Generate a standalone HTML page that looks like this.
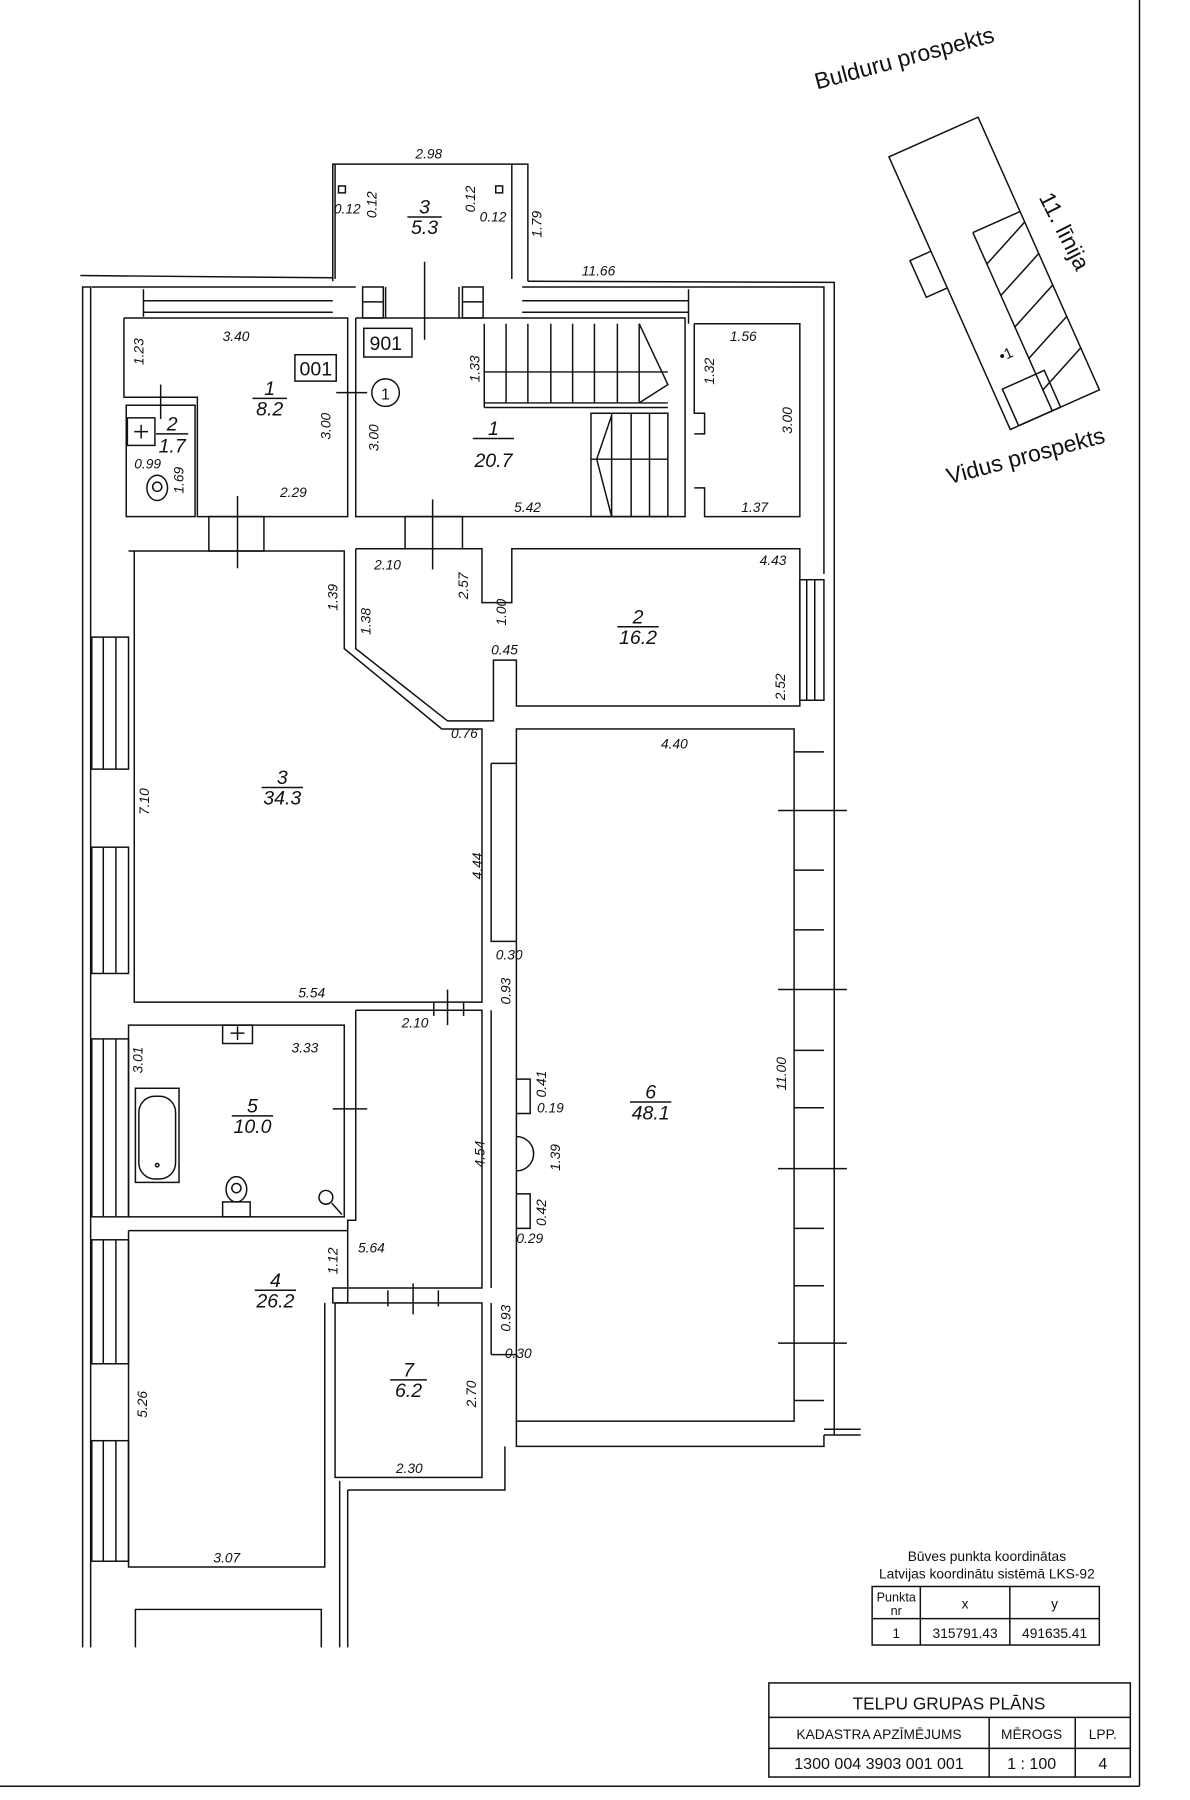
<!DOCTYPE html>
<html><head><meta charset="utf-8"><style>
html,body{margin:0;padding:0;background:#fff}
svg{display:block}
text{font-family:"Liberation Sans",sans-serif;fill:#111}
.d{font-size:12px;font-style:italic}
.r{font-size:17px;font-style:italic;text-anchor:middle}
</style></head><body>
<svg width="1190" height="1800" viewBox="0 0 1037 1568" preserveAspectRatio="none" xmlns="http://www.w3.org/2000/svg">
<g fill="none" stroke="#111" stroke-width="1.3">
<line x1="993" y1="0" x2="993" y2="1556"/>
<line x1="0" y1="1556" x2="993" y2="1556"/>
<polyline points="290,245 290,143 460,143 460,245"/>
<line x1="292" y1="243" x2="292" y2="143"/><line x1="446" y1="243" x2="446" y2="143"/>
<rect x="295" y="162" width="6" height="6"/><rect x="432" y="162" width="6" height="6"/>
<line x1="370" y1="228" x2="370" y2="296"/>
<polyline points="79,1435 79,250 72,250 72,1435"/>
<polyline points="70,240 290,242"/><polyline points="460,245 727,246 727,1250"/>
<polyline points="80,250 310,250"/><polyline points="455,250 718,250 718,500"/>
<line x1="125" y1="252" x2="125" y2="276"/><line x1="125" y1="262" x2="290" y2="262"/><line x1="125" y1="272" x2="290" y2="272"/>
<line x1="455" y1="262" x2="600" y2="262"/><line x1="455" y1="272" x2="600" y2="272"/><line x1="600" y1="252" x2="600" y2="282"/>
<rect x="316" y="250" width="18" height="27"/><line x1="316" y1="263" x2="334" y2="263"/>
<rect x="403" y="250" width="18" height="27"/><line x1="403" y1="263" x2="421" y2="263"/>
<line x1="336" y1="250" x2="336" y2="277"/><line x1="400" y1="250" x2="400" y2="277"/>
<polyline points="108,277 303,277 303,450 172,450 172,346 108,346 108,277"/>
<rect x="110" y="353" width="60" height="97"/>
<rect x="111" y="364" width="24" height="24"/>
<line x1="117" y1="376" x2="129" y2="376"/><line x1="123" y1="370" x2="123" y2="382"/>
<ellipse cx="137" cy="425" rx="9" ry="11"/><circle cx="137" cy="424" r="4"/>
<line x1="140" y1="335" x2="140" y2="365"/>
<line x1="293" y1="342" x2="320" y2="342"/><circle cx="336" cy="342" r="12"/>
<polyline points="310,277 597,277 597,450 310,450 310,277"/>
<rect x="317" y="286" width="42" height="25"/>
<rect x="257" y="309" width="36" height="23"/>
<line x1="422" y1="282" x2="422" y2="355"/><line x1="422" y1="355" x2="582" y2="355"/>
<line x1="422" y1="351" x2="582" y2="351"/><line x1="422" y1="324" x2="582" y2="324"/>
<g><line x1="441" y1="282" x2="441" y2="351"/><line x1="460" y1="282" x2="460" y2="351"/><line x1="480" y1="282" x2="480" y2="351"/><line x1="499" y1="282" x2="499" y2="351"/><line x1="518" y1="282" x2="518" y2="351"/><line x1="538" y1="282" x2="538" y2="351"/><line x1="557" y1="282" x2="557" y2="351"/></g>
<polyline points="557,282 582,335 557,351"/>
<rect x="515" y="360" width="67" height="90"/>
<line x1="515" y1="400" x2="582" y2="400"/>
<line x1="533" y1="360" x2="533" y2="450"/><line x1="550" y1="360" x2="550" y2="450"/><line x1="566" y1="360" x2="566" y2="450"/>
<polyline points="533,362 520,400 533,450"/>
<polyline points="605,282 697,282 697,450 614,450 614,425 605,425"/>
<polyline points="605,282 605,360 614,360 614,378 605,378"/>
<rect x="182" y="450" width="48" height="30"/><line x1="207" y1="432" x2="207" y2="495"/>
<rect x="353" y="450" width="50" height="28"/><line x1="377" y1="435" x2="377" y2="496"/>
<polyline points="112,480 300,480 300,565 385,635 420,635 420,873 117,873 117,480"/>
<polyline points="310,478 420,478 420,525 446,525 446,478 697,478 697,615 450,615 450,575 430,575 430,628 390,628 310,565 310,478"/>
<rect x="697" y="505" width="21" height="105"/><line x1="703" y1="505" x2="703" y2="610"/><line x1="710" y1="505" x2="710" y2="610"/>
<rect x="80" y="555" width="32" height="115"/><line x1="90" y1="555" x2="90" y2="670"/><line x1="101" y1="555" x2="101" y2="670"/>
<rect x="80" y="738" width="32" height="110"/><line x1="90" y1="738" x2="90" y2="848"/><line x1="101" y1="738" x2="101" y2="848"/>
<rect x="80" y="905" width="32" height="155"/><line x1="90" y1="905" x2="90" y2="1060"/><line x1="101" y1="905" x2="101" y2="1060"/>
<rect x="80" y="1080" width="32" height="108"/><line x1="90" y1="1080" x2="90" y2="1188"/><line x1="101" y1="1080" x2="101" y2="1188"/>
<rect x="80" y="1255" width="32" height="105"/><line x1="90" y1="1255" x2="90" y2="1360"/><line x1="101" y1="1255" x2="101" y2="1360"/>
<rect x="450" y="635" width="242" height="603"/>
<polyline points="428,665 428,820 450,820"/><line x1="428" y1="665" x2="450" y2="665"/>
<polyline points="450,940 462,940 462,970 450,970"/><path d="M450,990 a13,13 0 0 1 0,30"/>
<polyline points="450,1040 462,1040 462,1070 450,1070"/>
<line x1="692" y1="655" x2="718" y2="655"/><line x1="692" y1="758" x2="718" y2="758"/><line x1="692" y1="810" x2="718" y2="810"/><line x1="692" y1="915" x2="718" y2="915"/><line x1="692" y1="965" x2="718" y2="965"/><line x1="692" y1="1070" x2="718" y2="1070"/><line x1="692" y1="1120" x2="718" y2="1120"/><line x1="692" y1="1220" x2="718" y2="1220"/>
<line x1="678" y1="706" x2="738" y2="706"/><line x1="678" y1="862" x2="738" y2="862"/><line x1="678" y1="1018" x2="738" y2="1018"/><line x1="678" y1="1170" x2="738" y2="1170"/>
<line x1="718" y1="1250" x2="750" y2="1250"/><line x1="718" y1="1245" x2="750" y2="1245"/>
<polyline points="450,1238 450,1260 718,1260 718,1250"/>
<polyline points="303,1298 440,1298 440,1260"/>
<line x1="303" y1="1298" x2="303" y2="1435"/><line x1="296" y1="1290" x2="296" y2="1435"/>
<polyline points="118,1435 118,1402 280,1402 280,1435"/>
<rect x="112" y="893" width="188" height="167"/>
<rect x="118" y="948" width="38" height="82"/><rect x="121" y="955" width="32" height="72" rx="14"/>
<circle cx="137" cy="1015" r="1.5"/>
<rect x="194" y="893" width="26" height="16"/><line x1="201" y1="900" x2="213" y2="900"/><line x1="207" y1="894" x2="207" y2="906"/>
<rect x="194" y="1047" width="24" height="13"/><ellipse cx="206" cy="1036" rx="9" ry="11"/><circle cx="206" cy="1035" r="4"/>
<circle cx="284" cy="1043" r="6"/><line x1="289" y1="1048" x2="298" y2="1058"/>
<line x1="290" y1="966" x2="320" y2="966"/>
<polyline points="310,880 420,880 420,1122 290,1122 290,1135 303,1135 303,1063 310,1063 310,880"/>
<line x1="390" y1="862" x2="390" y2="893"/><line x1="378" y1="873" x2="378" y2="885"/><line x1="404" y1="873" x2="404" y2="885"/>
<line x1="428" y1="880" x2="428" y2="1122"/>
<polyline points="112,1072 303,1072 303,1063"/>
<polyline points="112,1072 112,1365 283,1365 283,1135"/>
<rect x="292" y="1135" width="128" height="152"/>
<line x1="360" y1="1118" x2="360" y2="1145"/><line x1="338" y1="1124" x2="338" y2="1138"/><line x1="382" y1="1124" x2="382" y2="1138"/>
<line x1="428" y1="1135" x2="428" y2="1180"/><line x1="428" y1="1180" x2="450" y2="1180"/>
<g transform="rotate(-24 860 230)">
<rect x="820" y="110" width="85" height="260"/>
<polyline points="820,200 800,200 800,235 820,235"/>
<polyline points="860,200 905,200"/>
<line x1="860" y1="200" x2="860" y2="370"/>
<line x1="860" y1="230" x2="905" y2="210"/><line x1="860" y1="260" x2="905" y2="240"/><line x1="860" y1="290" x2="905" y2="270"/><line x1="860" y1="320" x2="905" y2="300"/><line x1="860" y1="350" x2="905" y2="330"/>
<rect x="828" y="335" width="40" height="35"/>
</g>
<rect x="760" y="1382" width="198" height="51"/>
<line x1="760" y1="1410" x2="958" y2="1410"/><line x1="802" y1="1382" x2="802" y2="1433"/><line x1="880" y1="1382" x2="880" y2="1433"/>
<rect x="670" y="1466" width="315" height="82"/>
<line x1="670" y1="1496" x2="985" y2="1496"/><line x1="670" y1="1523" x2="985" y2="1523"/>
<line x1="862" y1="1496" x2="862" y2="1548"/><line x1="937" y1="1496" x2="937" y2="1548"/>
</g>
<g stroke="#111" stroke-width="1.3">
<line x1="355" y1="189" x2="385" y2="189"/><line x1="220" y1="347" x2="250" y2="347"/><line x1="136" y1="378" x2="164" y2="378"/>
<line x1="412" y1="382" x2="448" y2="382"/><line x1="538" y1="546" x2="574" y2="546"/><line x1="228" y1="686" x2="264" y2="686"/>
<line x1="202" y1="972" x2="238" y2="972"/><line x1="549" y1="960" x2="585" y2="960"/><line x1="222" y1="1124" x2="258" y2="1124"/><line x1="340" y1="1202" x2="372" y2="1202"/>
</g>
<text class="r" x="370" y="186">3</text><text class="r" x="370" y="204">5.3</text>
<text class="r" x="235" y="344">1</text><text class="r" x="235" y="362">8.2</text>
<text class="r" x="150" y="375">2</text><text class="r" x="150" y="394">1.7</text>
<text class="r" x="430" y="379">1</text><text class="r" x="430" y="407">20.7</text>
<text class="r" x="556" y="543">2</text><text class="r" x="556" y="561">16.2</text>
<text class="r" x="246" y="683">3</text><text class="r" x="246" y="701">34.3</text>
<text class="r" x="220" y="969">5</text><text class="r" x="220" y="987">10.0</text>
<text class="r" x="567" y="957">6</text><text class="r" x="567" y="975">48.1</text>
<text class="r" x="240" y="1121">4</text><text class="r" x="240" y="1139">26.2</text>
<text class="r" x="356" y="1199">7</text><text class="r" x="356" y="1217">6.2</text>
<text x="322" y="305" font-size="17">901</text><text x="261" y="327" font-size="17">001</text>
<text x="332" y="348" font-size="14">1</text>
<text class="d" x="362" y="138">2.98</text><text class="d" x="507" y="240">11.66</text>
<text class="d" x="291" y="186">0.12</text><text class="d" x="418" y="193">0.12</text>
<text class="d" x="194" y="297">3.40</text><text class="d" x="244" y="433">2.29</text><text class="d" x="117" y="408">0.99</text>
<text class="d" x="448" y="446">5.42</text><text class="d" x="636" y="297">1.56</text><text class="d" x="646" y="446">1.37</text>
<text class="d" x="326" y="496">2.10</text><text class="d" x="662" y="492">4.43</text><text class="d" x="428" y="570">0.45</text>
<text class="d" x="393" y="643">0.76</text><text class="d" x="576" y="652">4.40</text>
<text class="d" x="432" y="836">0.30</text><text class="d" x="260" y="869">5.54</text><text class="d" x="350" y="895">2.10</text>
<text class="d" x="254" y="917">3.33</text><text class="d" x="468" y="969">0.19</text><text class="d" x="450" y="1083">0.29</text>
<text class="d" x="312" y="1091">5.64</text><text class="d" x="440" y="1183">0.30</text><text class="d" x="345" y="1283">2.30</text>
<text class="d" x="186" y="1361">3.07</text>
<g class="d" font-size="12" font-style="italic">
<text transform="translate(125,318) rotate(-90)">1.23</text>
<text transform="translate(288,383) rotate(-90)">3.00</text>
<text transform="translate(330,393) rotate(-90)">3.00</text>
<text transform="translate(418,333) rotate(-90)">1.33</text>
<text transform="translate(622,335) rotate(-90)">1.32</text>
<text transform="translate(690,378) rotate(-90)">3.00</text>
<text transform="translate(160,430) rotate(-90)">1.69</text>
<text transform="translate(472,207) rotate(-90)">1.79</text>
<text transform="translate(328,190) rotate(-90)">0.12</text>
<text transform="translate(414,185) rotate(-90)">0.12</text>
<text transform="translate(294,532) rotate(-90)">1.39</text>
<text transform="translate(323,553) rotate(-90)">1.38</text>
<text transform="translate(408,522) rotate(-90)">2.57</text>
<text transform="translate(441,545) rotate(-90)">1.00</text>
<text transform="translate(684,610) rotate(-90)">2.52</text>
<text transform="translate(130,710) rotate(-90)">7.10</text>
<text transform="translate(420,766) rotate(-90)">4.44</text>
<text transform="translate(445,875) rotate(-90)">0.93</text>
<text transform="translate(124,935) rotate(-90)">3.01</text>
<text transform="translate(422,1017) rotate(-90)">4.54</text>
<text transform="translate(476,956) rotate(-90)">0.41</text>
<text transform="translate(488,1020) rotate(-90)">1.39</text>
<text transform="translate(476,1068) rotate(-90)">0.42</text>
<text transform="translate(685,950) rotate(-90)">11.00</text>
<text transform="translate(294,1110) rotate(-90)">1.12</text>
<text transform="translate(445,1160) rotate(-90)">0.93</text>
<text transform="translate(415,1226) rotate(-90)">2.70</text>
<text transform="translate(128,1235) rotate(-90)">5.26</text>
</g>
<text x="712" y="78" font-size="20" transform="rotate(-15 712 78)">Bulduru prospekts</text>
<text x="905" y="172" font-size="20" transform="rotate(63 905 172)">11. līnija</text>
<text x="827" y="422" font-size="20" transform="rotate(-15 827 422)">Vidus prospekts</text>
<text x="873" y="315" font-size="13" transform="rotate(-24 873 315)">•1</text>
<text x="860" y="1360" font-size="12" text-anchor="middle">Būves punkta koordinātas</text>
<text x="860" y="1375" font-size="12" text-anchor="middle">Latvijas koordinātu sistēmā LKS-92</text>
<text x="781" y="1395" font-size="11" text-anchor="middle">Punkta</text><text x="781" y="1407" font-size="11" text-anchor="middle">nr</text>
<text x="841" y="1401" font-size="12" text-anchor="middle">x</text><text x="919" y="1401" font-size="12" text-anchor="middle">y</text>
<text x="781" y="1427" font-size="12" text-anchor="middle">1</text>
<text x="841" y="1427" font-size="12" text-anchor="middle">315791.43</text><text x="919" y="1427" font-size="12" text-anchor="middle">491635.41</text>
<text x="827" y="1489" font-size="15" text-anchor="middle">TELPU GRUPAS PLĀNS</text>
<text x="766" y="1515" font-size="12" text-anchor="middle">KADASTRA APZĪMĒJUMS</text>
<text x="899" y="1515" font-size="12" text-anchor="middle">MĒROGS</text>
<text x="961" y="1515" font-size="12" text-anchor="middle">LPP.</text>
<text x="766" y="1541" font-size="14" text-anchor="middle">1300 004 3903 001 001</text>
<text x="899" y="1541" font-size="14" text-anchor="middle">1 : 100</text>
<text x="961" y="1541" font-size="14" text-anchor="middle">4</text>
</svg>
</body></html>
